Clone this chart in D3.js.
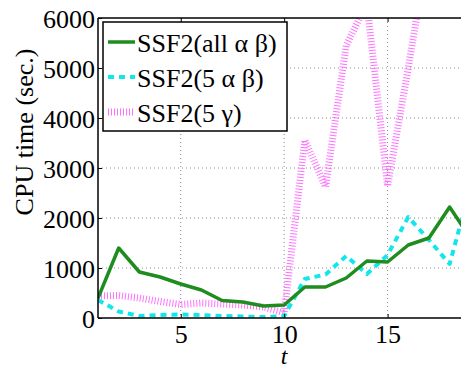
<!DOCTYPE html>
<html>
<head>
<meta charset="utf-8">
<script src="https://cdn.jsdelivr.net/npm/d3@7"></script>
<style>
body { margin: 0; background: #fff; }
svg { display: block; }
text { font-family: "Liberation Serif", "DejaVu Serif", serif; fill: #000; }
</style>
</head>
<body>
<svg id="vis" width="461" height="367"></svg>
<script>
// t = 1 .. 19
var steps = [1, 2, 3, 4, 5, 6, 7, 8, 9, 10, 11, 12, 13, 14, 15, 16, 17, 18, 19];
var ssfAll = [400, 1400, 920, 820, 680, 560, 350, 320, 240, 260, 620, 620, 800, 1140, 1120, 1460, 1600, 2220, 1600];
var ssf5ab = [360, 130, 40, 60, 70, 60, 40, 30, 20, 40, 780, 870, 1240, 880, 1260, 2020, 1560, 1080, 2600];
var ssf5g = [440, 450, 400, 330, 270, 300, 280, 260, 220, 100, 3560, 2620, 5450, 6300, 2640, 5000, 7500, 9000, 9000];
var seriesNames = ["SSF2(all \u03b1 \u03b2)", "SSF2(5 \u03b1 \u03b2)", "SSF2(5 \u03b3)"];
var xTicks = [5, 10, 15];
var yTicks = [0, 1000, 2000, 3000, 4000, 5000, 6000];

var plot = { left: 98, top: 18, bottom: 318, right: 491 };
var fontSize = 26;

var svg = d3.select("#vis");

var x = d3.scaleLinear().domain([1, 20]).range([plot.left, plot.right]);
var y = d3.scaleLinear().domain([0, 6000]).range([plot.bottom, plot.top]);

// 网格线
var grid = svg.append("g").attr("class", "grid");
grid.selectAll("line.h")
    .data(yTicks.filter(d => d > 0 && d < 6000))
    .enter().append("line")
    .attr("x1", plot.left).attr("x2", plot.right)
    .attr("y1", d => y(d)).attr("y2", d => y(d))
    .attr("stroke", "#8a8a8a").attr("stroke-width", 1)
    .attr("stroke-dasharray", "1,3");
grid.selectAll("line.v")
    .data(xTicks)
    .enter().append("line")
    .attr("x1", d => x(d)).attr("x2", d => x(d))
    .attr("y1", plot.top).attr("y2", plot.bottom)
    .attr("stroke", "#8a8a8a").attr("stroke-width", 1)
    .attr("stroke-dasharray", "1,3");

// 裁剪区域
svg.append("clipPath").attr("id", "clip")
    .append("rect")
    .attr("x", plot.left).attr("y", plot.top)
    .attr("width", plot.right - plot.left).attr("height", plot.bottom - plot.top);

var line = d3.line()
    .x((d, i) => x(steps[i]))
    .y(d => y(d));

var series = [
    { name: seriesNames[0], values: ssfAll, color: "#1f8c1f", width: 3.5, dash: null },
    { name: seriesNames[1], values: ssf5ab, color: "#12e6ec", width: 4, dash: "6,5" },
    { name: seriesNames[2], values: ssf5g, color: "#ff70ff", width: 7, dash: "1,2" }
];

var lines = svg.append("g").attr("clip-path", "url(#clip)");
// 先画粉色, 再画青色和绿色
[series[2], series[1], series[0]].forEach(function(s) {
    lines.append("path")
        .datum(s.values)
        .attr("d", line)
        .attr("fill", "none")
        .attr("stroke", s.color)
        .attr("stroke-width", s.width)
        .attr("stroke-dasharray", s.dash)
        .attr("stroke-linejoin", "round");
});

// 坐标轴
var yAxis = d3.axisLeft(y).tickValues(yTicks).tickSize(-4).tickPadding(3).tickFormat(d3.format("d"));
var yG = svg.append("g").attr("transform", "translate(" + plot.left + ",0)").call(yAxis);
yG.select(".domain").remove();
yG.selectAll("text").attr("font-size", fontSize).attr("dy", "0.37em")
    .style("font-family", "'Liberation Serif', serif");

var xAxis = d3.axisBottom(x).tickValues(xTicks).tickSize(-4).tickPadding(7).tickFormat(d3.format("d"));
var xG = svg.append("g").attr("transform", "translate(0," + plot.bottom + ")").call(xAxis);
xG.select(".domain").remove();
xG.selectAll("text").attr("font-size", fontSize)
    .style("font-family", "'Liberation Serif', serif");

var xTop = d3.axisTop(x).tickValues(xTicks).tickSize(-4).tickFormat("");
var xTopG = svg.append("g").attr("transform", "translate(0," + plot.top + ")").call(xTop);
xTopG.select(".domain").remove();

// 边框
svg.append("line").attr("x1", plot.left).attr("x2", plot.left)
    .attr("y1", plot.top).attr("y2", plot.bottom)
    .attr("stroke", "#000").attr("stroke-width", 1.5);
svg.append("line").attr("x1", plot.left).attr("x2", plot.right)
    .attr("y1", plot.bottom).attr("y2", plot.bottom)
    .attr("stroke", "#000").attr("stroke-width", 1.5);
svg.append("line").attr("x1", plot.left).attr("x2", plot.right)
    .attr("y1", plot.top).attr("y2", plot.top)
    .attr("stroke", "#000").attr("stroke-width", 1.5);

// 轴标题
svg.append("text")
    .attr("transform", "translate(33,132) rotate(-90)")
    .attr("text-anchor", "middle")
    .attr("font-size", fontSize)
    .text("CPU time (sec.)");

svg.append("text")
    .attr("x", x(10))
    .attr("y", 364)
    .attr("text-anchor", "middle")
    .attr("font-size", 24)
    .attr("font-style", "italic")
    .text("t");

// 图例
var legend = svg.append("g");
legend.append("rect")
    .attr("x", 103).attr("y", 22)
    .attr("width", 184).attr("height", 109)
    .attr("fill", "#fff")
    .attr("stroke", "#000").attr("stroke-width", 1.5);

var rows = legend.selectAll("g.row")
    .data(series)
    .enter().append("g")
    .attr("transform", (d, i) => "translate(0," + (42 + i * 35) + ")");

rows.append("line")
    .attr("x1", 108).attr("x2", 135)
    .attr("y1", 0).attr("y2", 0)
    .attr("stroke", d => d.color)
    .attr("stroke-width", d => d.width)
    .attr("stroke-dasharray", d => d.dash);

rows.append("text")
    .attr("x", 137)
    .attr("y", 10)
    .attr("font-size", fontSize)
    .text(d => d.name);
</script>
</body>
</html>
